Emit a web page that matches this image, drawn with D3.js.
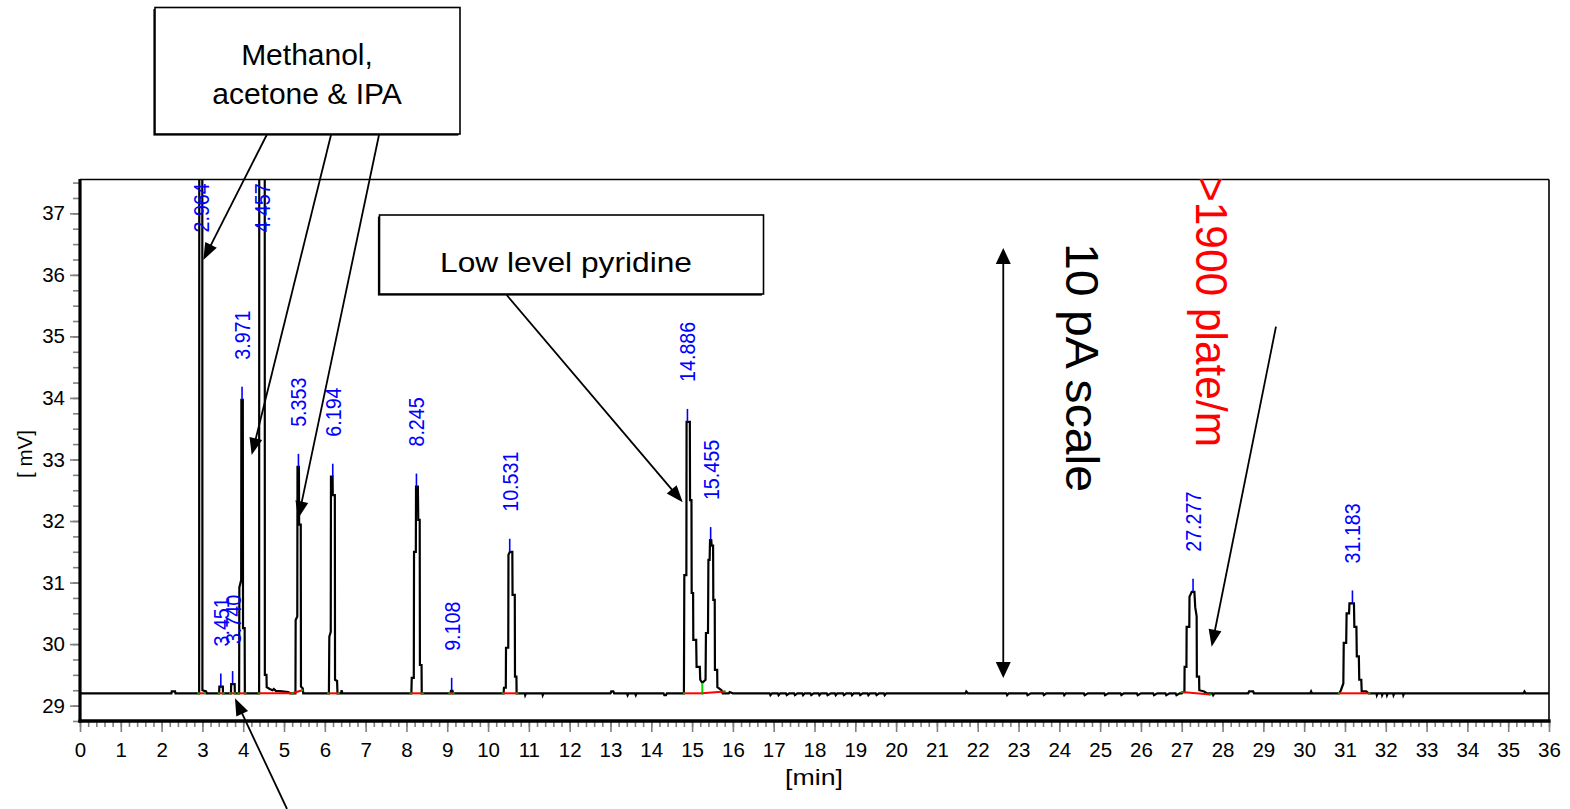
<!DOCTYPE html>
<html><head><meta charset="utf-8">
<script src="https://cdn.jsdelivr.net/npm/d3@7"></script>
<style>
body{margin:0;background:#fff}
svg{display:block}
text{font-family:"Liberation Sans",Arial,Helvetica,sans-serif}
</style>
</head><body>
<svg id="c" width="1570" height="809"></svg>
<script>
// ---------------- DATA ----------------
const xTickValues = d3.range(0, 37);               // 0 .. 36 min
const yTickValues = [29, 30, 31, 32, 33, 34, 35, 36, 37];
const xMinorTicks = d3.range(0, 36.001, 0.2);
const yMinorTicks = d3.range(28.75, 37.51, 0.25);

// chromatogram trace [time (min), signal (mV)]
const trace = [
 [0,29.2],[2.24,29.2],[2.25,29.23],[2.33,29.23],[2.34,29.2],
 [2.92,29.2],[2.925,45],[2.995,45],[3.0,29.25],[3.09,29.23],[3.1,29.2],
 [3.41,29.2],[3.415,29.31],[3.5,29.31],[3.505,29.2],
 [3.70,29.2],[3.705,29.35],[3.79,29.35],[3.795,29.2],
 [3.90,29.2],[3.905,30.92],[3.95,31.04],[3.955,33.97],[3.99,33.97],[3.995,30.26],[4.035,30.26],[4.04,29.2],
 [4.39,29.2],[4.395,45],[4.525,45],[4.53,29.5],[4.57,29.5],[4.575,29.3],[4.65,29.27],[4.72,29.25],[4.75,29.27],[4.8,29.24],[4.95,29.23],[5.1,29.22],[5.15,29.2],
 [5.28,29.2],[5.285,30.39],[5.325,30.45],[5.33,32.88],[5.365,32.88],[5.37,31.94],[5.41,31.94],[5.415,29.31],[5.46,29.28],[5.47,29.2],
 [6.10,29.2],[6.11,30.12],[6.145,30.2],[6.15,32.72],[6.19,32.72],[6.195,32.42],[6.245,32.42],[6.25,29.42],[6.30,29.4],[6.31,29.2],
 [6.40,29.2],[6.41,29.25],[6.43,29.2],
 [8.12,29.2],[8.13,29.45],[8.18,29.45],[8.186,31.5],[8.23,31.5],[8.235,32.56],[8.28,32.56],[8.29,32.02],[8.325,32.02],[8.33,29.66],[8.37,29.66],[8.375,29.2],
 [9.08,29.2],[9.09,29.24],[9.13,29.24],[9.14,29.2],
 [10.38,29.2],[10.39,29.29],[10.435,29.29],[10.44,29.94],[10.495,29.94],[10.50,31.45],[10.535,31.5],[10.595,31.5],[10.60,30.8],[10.655,30.8],[10.66,29.47],[10.695,29.47],[10.70,29.2],
 [10.9,29.2],[10.91,29.17],[10.93,29.2],[11.33,29.2],[11.34,29.17],[11.36,29.2],
 [13.0,29.2],[13.02,29.23],[13.07,29.23],[13.09,29.2],
 [13.4,29.2],[13.42,29.17],[13.44,29.2],[13.6,29.2],[13.62,29.17],[13.64,29.2],
 [14.3,29.2],[14.32,29.17],[14.36,29.17],[14.38,29.2],
 [14.80,29.2],[14.81,31.12],[14.86,31.12],[14.865,33.61],[14.945,33.61],[14.95,32.34],[14.985,32.34],[14.99,30.83],[15.025,30.83],[15.03,30.07],[15.1,30.07],[15.11,29.63],[15.19,29.63],[15.2,29.42],[15.25,29.37],[15.33,29.42],
 [15.34,30.18],[15.39,30.18],[15.40,31.37],[15.43,31.37],[15.44,31.69],[15.47,31.69],[15.48,31.6],[15.515,31.6],[15.52,30.72],[15.555,30.72],[15.56,29.58],[15.615,29.58],[15.62,29.3],[15.72,29.25],[15.75,29.2],
 [15.9,29.2],[15.92,29.22],[16.0,29.2],
 [16.9,29.2],[16.92,29.17],[16.96,29.2],[17.1,29.2],[17.12,29.17],[17.16,29.2],[17.3,29.2],[17.32,29.17],[17.38,29.2],
 [17.5,29.2],[17.52,29.17],[17.58,29.2],[17.7,29.2],[17.72,29.17],[17.76,29.2],[17.9,29.2],[17.92,29.17],[17.98,29.2],
 [18.1,29.2],[18.12,29.17],[18.16,29.2],[18.3,29.2],[18.32,29.17],[18.4,29.2],[18.5,29.2],[18.52,29.17],[18.56,29.2],
 [18.7,29.2],[18.72,29.17],[18.78,29.2],[18.9,29.2],[18.92,29.17],[18.96,29.2],[19.1,29.2],[19.12,29.17],[19.18,29.2],
 [19.3,29.2],[19.32,29.17],[19.36,29.2],[19.5,29.2],[19.52,29.17],[19.58,29.2],[19.7,29.2],[19.72,29.17],[19.76,29.2],
 [21.7,29.2],[21.72,29.23],[21.76,29.2],
 [22.7,29.2],[22.72,29.17],[22.76,29.2],[23.2,29.2],[23.22,29.17],[23.3,29.2],[23.6,29.2],[23.62,29.17],[23.68,29.2],
 [24.1,29.2],[24.12,29.17],[24.16,29.2],[24.6,29.2],[24.62,29.17],[24.7,29.2],[25.1,29.2],[25.12,29.17],[25.2,29.2],
 [25.5,29.2],[25.52,29.17],[25.58,29.2],[25.9,29.2],[25.92,29.17],[26.0,29.2],[26.3,29.2],[26.32,29.17],[26.4,29.2],
 [26.6,29.2],[26.62,29.17],[26.7,29.2],[26.85,29.2],[26.87,29.17],[26.95,29.2],
 [27.0,29.2],[27.03,29.22],[27.065,29.22],[27.07,29.63],[27.115,29.63],[27.12,30.28],[27.185,30.28],[27.19,30.77],[27.245,30.85],[27.31,30.85],[27.33,30.6],[27.365,30.45],[27.37,29.47],[27.425,29.47],[27.43,29.25],[27.55,29.23],[27.62,29.2],
 [27.75,29.2],[27.77,29.17],[27.8,29.2],[28.63,29.2],[28.65,29.23],[28.75,29.23],[28.77,29.2],[30.15,29.2],[30.17,29.23],[30.19,29.2],
 [30.86,29.2],[30.9,29.25],[30.96,29.36],[30.97,30.02],[31.03,30.02],[31.04,30.5],[31.10,30.5],[31.11,30.66],[31.22,30.66],[31.23,30.28],[31.28,30.28],[31.29,29.8],[31.34,29.8],[31.35,29.42],[31.40,29.42],[31.41,29.23],[31.52,29.23],[31.58,29.2],
 [31.77,29.2],[31.78,29.17],[31.8,29.2],[31.9,29.2],[31.91,29.17],[31.93,29.2],[32.02,29.2],[32.03,29.17],[32.05,29.2],
 [32.18,29.2],[32.19,29.17],[32.21,29.2],[32.42,29.2],[32.43,29.17],[32.45,29.2],
 [35.38,29.2],[35.4,29.23],[35.43,29.2],[36,29.2]
];

// labelled peaks
const peakTimes   = [2.964, 3.451, 3.740, 3.971, 4.457, 5.353, 6.194, 8.245, 9.108, 10.531, 14.886, 15.455, 27.277, 31.183];
const peakLabels  = ["2.964","3.451","3.740","3.971","4.457","5.353","6.194","8.245","9.108","10.531","14.886","15.455","27.277","31.183"];
const peakHeights = [45, 29.31, 29.35, 33.97, 45, 32.88, 32.72, 32.56, 29.24, 31.5, 33.61, 31.69, 30.85, 30.66];

// integration baselines
const intStart  = [2.90, 3.40, 3.68, 3.88, 4.38, 5.20, 6.08, 8.10, 9.05, 10.36, 14.80, 15.25, 27.00, 30.85];
const intEnd    = [3.06, 3.52, 3.80, 4.06, 5.20, 5.45, 6.34, 8.40, 9.16, 10.72, 15.25, 15.80, 27.70, 31.60];
const intStartV = [29.2, 29.2, 29.2, 29.2, 29.2, 29.2, 29.2, 29.2, 29.2, 29.2, 29.2, 29.2, 29.22, 29.2];
const intEndV   = [29.2, 29.2, 29.2, 29.2, 29.2, 29.25, 29.2, 29.2, 29.2, 29.2, 29.2, 29.23, 29.18, 29.2];
const dropTime = [15.25], dropTop = [29.37];

// annotation arrows (tail -> tip) in data units (min, mV)
const arrowTailT = [4.575, 6.151, 7.327, 10.457, 5.073, 29.309];
const arrowTailV = [38.273, 38.273, 38.273, 35.673, 27.320, 35.158];
const arrowTipT  = [3.022, 4.208, 5.350, 14.770, 3.798, 27.733];
const arrowTipV  = [36.242, 33.073, 32.044, 32.304, 29.119, 29.957];
const scaleArrowT = 22.626, scaleArrowTop = 36.437, scaleArrowBottom = 29.449;

// ---------------- DRAW ----------------
const svg = d3.select('#c');
const x = d3.scaleLinear().domain([0, 36]).range([80, 1549]);
const y = d3.scaleLinear().domain([28.75, 37.55]).range([721, 179.5]);
const X0 = x(0), X1 = x(36), Y0 = y(28.75), Y1 = y(37.55);

svg.append('defs').append('clipPath').attr('id','pc')
  .append('rect').attr('x',X0).attr('y',Y1).attr('width',X1-X0).attr('height',Y0-Y1);

const tickColor = '#808080';
function styleAxis(g){
  g.select('.domain').remove();
  g.selectAll('.tick line').attr('stroke', tickColor).attr('stroke-width', 1.6);
  g.selectAll('.tick text').attr('fill','#000').style('font-size','20.5px')
    .style('font-family','"Liberation Sans",Arial,sans-serif');
}
// x axis
svg.append('g').attr('transform',`translate(0,${Y0})`)
  .call(d3.axisBottom(x).tickValues(xMinorTicks).tickSize(6).tickFormat('')).call(styleAxis);
svg.append('g').attr('transform',`translate(0,${Y0})`)
  .call(d3.axisBottom(x).tickValues(xTickValues).tickSize(11).tickPadding(10).tickFormat(d3.format('d'))).call(styleAxis);
// y axis
svg.append('g').attr('transform',`translate(${X0},0)`)
  .call(d3.axisLeft(y).tickValues(yMinorTicks).tickSize(7).tickFormat('')).call(styleAxis);
svg.append('g').attr('transform',`translate(${X0},0)`)
  .call(d3.axisLeft(y).tickValues(yTickValues).tickSize(10).tickPadding(5).tickFormat(d3.format('d'))).call(styleAxis);

// axis titles
svg.append('text').attr('x', 814).attr('y', 785).attr('text-anchor','middle')
  .style('font-size','22px').attr('textLength',58).attr('lengthAdjust','spacingAndGlyphs').text('[min]');
svg.append('text').attr('transform','translate(32,478) rotate(-90)')
  .style('font-size','20.5px').text('[ mV]');

// plot content
const plot = svg.append('g').attr('clip-path','url(#pc)');
const line = d3.line().x(d => x(d[0])).y(d => y(d[1]));
plot.append('path').datum(trace).attr('d', line)
  .attr('fill','none').attr('stroke','#000').attr('stroke-width',2.2).attr('stroke-linejoin','miter');

// integration baselines
const ints = intStart.map((s,i) => ({s, e:intEnd[i], sv:intStartV[i], ev:intEndV[i]}));
plot.selectAll('line.int').data(ints).join('line').attr('class','int')
  .attr('x1', d => x(d.s)).attr('x2', d => x(d.e))
  .attr('y1', d => y(d.sv)).attr('y2', d => y(d.ev))
  .attr('stroke','#ff0000').attr('stroke-width',2);
plot.selectAll('line.drop').data(dropTime).join('line').attr('class','drop')
  .attr('x1', d => x(d)).attr('x2', d => x(d))
  .attr('y1', y(29.2)).attr('y2', (d,i) => y(dropTop[i]))
  .attr('stroke','#00dd00').attr('stroke-width',2);
const ends = ints.flatMap(d => [[d.s,d.sv],[d.e,d.ev]]);
plot.selectAll('rect.end').data(ends).join('rect').attr('class','end')
  .attr('x', d => x(d[0]) - 1).attr('y', d => y(d[1]) - 1).attr('width',2).attr('height',2)
  .attr('fill','#00aa00');

// peak labels
const peaks = peakTimes.map((t,i) => ({t, label: peakLabels[i], h: peakHeights[i]}));
const yMax = y.domain()[1];
plot.selectAll('line.pk').data(peaks.filter(p => p.h < yMax)).join('line').attr('class','pk')
  .attr('x1', d => x(d.t)).attr('x2', d => x(d.t))
  .attr('y1', d => y(d.h)).attr('y2', d => y(d.h) - 13)
  .attr('stroke','#0000ff').attr('stroke-width',1.6);
plot.selectAll('text.pk').data(peaks).join('text').attr('class','pk')
  .attr('transform', d => {
    const ly = d.h < yMax ? y(d.h) - 40 : Y1 + 53;
    return `translate(${x(d.t) + 8},${ly}) rotate(-90) scale(1,1.14)`;
  })
  .attr('fill','#0000ff').style('font-size','19.7px').text(d => d.label);

// frame
const frame = svg.append('g').attr('stroke','#000').attr('fill','none');
frame.append('line').attr('x1',X0).attr('x2',X1).attr('y1',Y1).attr('y2',Y1).attr('stroke-width',1.6);
frame.append('line').attr('x1',X1).attr('x2',X1).attr('y1',Y1).attr('y2',Y0).attr('stroke-width',1.6);
frame.append('line').attr('x1',X0).attr('x2',X0).attr('y1',Y1-0.5).attr('y2',Y0+1.6).attr('stroke-width',3.2);
frame.append('line').attr('x1',X0-1.6).attr('x2',X1+1.6).attr('y1',Y0).attr('y2',Y0).attr('stroke-width',3.4);

// ---------------- ANNOTATIONS ----------------
const ann = svg.append('g');
function arrow(x1,y1,x2,y2,len=17,hw=6.5){
  const dx=x2-x1, dy=y2-y1, d=Math.hypot(dx,dy), ux=dx/d, uy=dy/d;
  const bx=x2-ux*len, by=y2-uy*len;
  ann.append('line').attr('x1',x1).attr('y1',y1).attr('x2',bx+ux*2).attr('y2',by+uy*2)
    .attr('stroke','#000').attr('stroke-width',1.8);
  ann.append('path').attr('d',`M${x2},${y2}L${bx-uy*hw},${by+ux*hw}L${bx+uy*hw},${by-ux*hw}Z`).attr('fill','#000');
}
function box(x0,y0,x1,y1){
  ann.append('rect').attr('x',x0-1.6).attr('y',y0+1.6).attr('width',x1-x0).attr('height',y1-y0).attr('fill','#000');
  ann.append('rect').attr('x',x0).attr('y',y0).attr('width',x1-x0).attr('height',y1-y0)
    .attr('fill','#fff').attr('stroke','#000').attr('stroke-width',1.6);
}
box(155, 7.5, 460, 134);
ann.append('text').attr('x',307).attr('y',65).attr('text-anchor','middle').style('font-size','30px').text('Methanol,');
ann.append('text').attr('x',307).attr('y',104).attr('text-anchor','middle').style('font-size','30px').text('acetone & IPA');
box(379.5, 215, 763.5, 294);
ann.append('text').attr('x',566).attr('y',272).attr('text-anchor','middle').style('font-size','28px')
  .attr('textLength',252).attr('lengthAdjust','spacingAndGlyphs').text('Low level pyridine');

arrowTailT.forEach((t,i) => arrow(x(t), y(arrowTailV[i]), x(arrowTipT[i]), y(arrowTipV[i])));

// double-headed 10 pA scale arrow
{
  const sx = x(scaleArrowT), yt = y(scaleArrowTop), yb = y(scaleArrowBottom);
  ann.append('line').attr('x1',sx).attr('x2',sx).attr('y1',yt+14).attr('y2',yb-14).attr('stroke','#000').attr('stroke-width',1.8);
  ann.append('path').attr('d',`M${sx},${yt}L${sx-7.5},${yt+16}L${sx+7.5},${yt+16}Z`).attr('fill','#000');
  ann.append('path').attr('d',`M${sx},${yb}L${sx-7.5},${yb-16}L${sx+7.5},${yb-16}Z`).attr('fill','#000');
}
ann.append('text').attr('transform','translate(1066,243) rotate(90)').style('font-size','47px')
  .attr('textLength',249).attr('lengthAdjust','spacingAndGlyphs').text('10 pA scale');
ann.append('text').attr('transform','translate(1196,177) rotate(90)').attr('fill','#ff0000')
  .style('font-size','45px').attr('textLength',270).attr('lengthAdjust','spacingAndGlyphs').text('>1900 plate/m');
</script>
</body></html>
